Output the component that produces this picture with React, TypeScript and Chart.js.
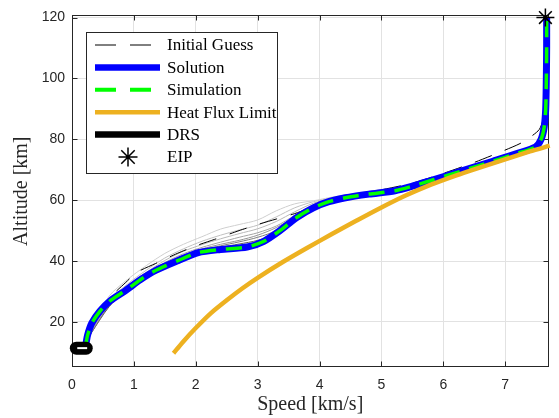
import React, { useEffect, useRef } from 'react';
import { Chart, registerables } from 'chart.js';

Chart.register(...registerables);

const xTickValues = [0, 1, 2, 3, 4, 5, 6, 7];
const yTickValues = [20, 40, 60, 80, 100, 120];

const solutionSpeed = [0.22, 0.25, 0.32, 0.45, 0.62, 0.87, 1.1, 1.35, 1.72, 2.04, 2.4, 2.83, 3.1, 3.36, 3.63, 3.9, 4.15, 4.42, 4.8, 5.22, 5.5, 5.85, 6.3, 6.8, 7.2, 7.49, 7.58, 7.63, 7.655, 7.665, 7.67, 7.67];
const solutionAlt = [12.0, 15.5, 19.6, 23.5, 27.0, 30.4, 33.8, 36.9, 40.2, 42.8, 43.8, 44.6, 46.5, 50.0, 54.3, 57.5, 59.5, 60.8, 62.0, 63.1, 64.6, 66.8, 69.6, 72.8, 75.4, 77.5, 80.0, 84.0, 90.0, 100, 110, 120];

const simulationSpeed = solutionSpeed;
const simulationAlt = solutionAlt;

const guessSpeed = [0.22, 0.3, 0.45, 0.65, 0.87, 1.05, 1.35, 1.7, 2.0, 2.3, 2.7, 3.0, 3.3, 3.6, 3.9, 4.2, 4.6, 5.0, 5.5, 6.0, 6.5, 6.92, 7.24, 7.41, 7.55, 7.62, 7.65, 7.665, 7.67];
const guessAlt = [12, 17.0, 22.5, 28.7, 33.0, 36.3, 39.2, 42.5, 45.0, 47.1, 50.0, 52.0, 53.8, 55.6, 57.8, 59.8, 61.8, 63.4, 65.6, 68.8, 72.4, 75.8, 78.6, 80.8, 83.2, 87, 93, 105, 120];

const iterSpeed = [0.3, 0.6, 0.9, 1.2, 1.5, 1.8, 2.1, 2.4, 2.7, 3.0, 3.3, 3.6, 3.9, 4.2, 4.6, 5.0];
const iter1Alt = [18.0, 28.5, 34.0, 38.5, 42.5, 45.5, 48.0, 50.5, 52.0, 53.5, 56.5, 58.8, 59.8, 61.0, 62.3, 63.5];
const iter2Alt = [17.0, 27.0, 32.5, 37.0, 41.0, 44.0, 46.5, 48.5, 50.2, 51.8, 54.5, 57.5, 59.5, 60.8, 62.2, 63.4];
const iter3Alt = [16.5, 26.0, 31.5, 35.8, 39.5, 42.4, 44.5, 46.2, 47.8, 49.3, 51.5, 55.0, 58.5, 60.5, 62.0, 63.3];
const iter4Alt = [16.0, 25.5, 31.0, 35.0, 38.5, 41.3, 43.5, 45.0, 46.3, 47.8, 50.0, 54.0, 57.8, 60.3, 61.8, 63.2];
const iter5Alt = [16.0, 25.0, 30.8, 34.5, 38.0, 40.8, 43.0, 44.5, 45.6, 46.8, 49.0, 53.5, 57.6, 60.2, 61.7, 63.2];
const iter6Alt = [16.2, 25.2, 31.2, 35.2, 39.0, 42.0, 44.0, 45.5, 46.8, 48.5, 51.0, 54.5, 58.0, 60.4, 61.9, 63.3];
const iter7Alt = [16.8, 26.5, 32.0, 36.3, 40.2, 43.2, 45.4, 47.3, 49.0, 50.6, 53.0, 56.2, 59.0, 60.7, 62.1, 63.4];
const iterColors = ['#cfcfcf', '#c0c0c0', '#a4a4a4', '#7c7c7c', '#5e5e5e', '#949494', '#b8b8b8'];

const heatSpeed = [1.64, 1.8, 2.0, 2.25, 2.51, 2.75, 3.0, 3.4, 3.79, 4.2, 4.6, 5.0, 5.4, 5.8, 6.2, 6.6, 7.0, 7.4, 7.72];
const heatAlt = [9.7, 13.6, 18.0, 23.0, 27.3, 31.0, 34.5, 39.6, 44.2, 48.9, 53.3, 57.6, 61.6, 65.1, 68.1, 70.8, 73.4, 76.0, 77.9];

const drsSpeed = [0.07, 0.23];
const drsAlt = [11.4, 11.4];
const drsInnerSpeed = [0.085, 0.245];
const drsInnerAlt = [11.4, 11.4];

const eipSpeed = [7.65];
const eipAlt = [120];

const legendLabels = ['Initial Guess', 'Solution', 'Simulation', 'Heat Flux Limit', 'DRS', 'EIP'];
const xTitle = 'Speed [km/s]';
const yTitle = 'Altitude [km]';

const BLUE = '#0000ff';
const GREEN = '#00ff00';
const ORANGE = '#edb120';
const AXIS = '#262626';

const pts = (xs: number[], ys: number[]) => xs.map((x, i) => ({ x, y: ys[i] }));

function drawAsterisk(ctx: CanvasRenderingContext2D, cx: number, cy: number, r: number) {
  ctx.beginPath();
  for (let k = 0; k < 4; k++) {
    const a = (k * Math.PI) / 4;
    ctx.moveTo(cx - Math.cos(a) * r, cy - Math.sin(a) * r);
    ctx.lineTo(cx + Math.cos(a) * r, cy + Math.sin(a) * r);
  }
  ctx.stroke();
}

const framePlugin = {
  id: 'frame',
  beforeDatasetsDraw(chart: any) {
    const { ctx, chartArea: a, scales } = chart;
    const x = scales.x;
    const y = scales.y;
    ctx.save();
    ctx.strokeStyle = AXIS;
    ctx.lineWidth = 1;
    const L = Math.round(a.left) + 0.5;
    const R = Math.round(a.right) - 0.5;
    const T = Math.round(a.top) + 0.5;
    const B = Math.round(a.bottom) - 0.5;
    ctx.strokeRect(L, T, R - L, B - T);
    ctx.beginPath();
    const tl = 5;
    xTickValues.forEach((v) => {
      const px = Math.round(x.getPixelForValue(v)) + 0.5;
      ctx.moveTo(px, B);
      ctx.lineTo(px, B - tl);
      ctx.moveTo(px, T);
      ctx.lineTo(px, T + tl);
    });
    yTickValues.forEach((v) => {
      const py = Math.round(y.getPixelForValue(v)) + 0.5;
      ctx.moveTo(L, py);
      ctx.lineTo(L + tl, py);
      ctx.moveTo(R, py);
      ctx.lineTo(R - tl, py);
    });
    ctx.stroke();
    ctx.restore();
  },
  afterDraw(chart: any) {
    const { ctx, chartArea: a } = chart;
    ctx.save();
    ctx.fillStyle = AXIS;
    ctx.font = '20px "Liberation Serif"';
    ctx.textAlign = 'center';
    ctx.textBaseline = 'middle';
    ctx.fillText(xTitle, (a.left + a.right) / 2, 405);
    ctx.save();
    ctx.translate(22, (a.top + a.bottom) / 2);
    ctx.rotate(-Math.PI / 2);
    ctx.fillText(yTitle, 0, 0);
    ctx.restore();

    const box = { left: 86, top: 32, right: 277, bottom: 173 };
    ctx.fillStyle = '#ffffff';
    ctx.fillRect(box.left, box.top, box.right - box.left, box.bottom - box.top);
    ctx.strokeStyle = AXIS;
    ctx.lineWidth = 1;
    ctx.strokeRect(box.left + 0.5, box.top + 0.5, box.right - box.left, box.bottom - box.top);
    const rowY = (i: number) => 45 + i * 22.4;
    const sx0 = 95;
    const sx1 = 160;
    const styles = [
      { c: '#000000', w: 1, d: [21, 14] },
      { c: BLUE, w: 6.5, d: [] },
      { c: GREEN, w: 4, d: [21, 14] },
      { c: ORANGE, w: 4.5, d: [] },
      { c: '#000000', w: 6.5, d: [] },
    ];
    styles.forEach((s, i) => {
      ctx.beginPath();
      ctx.strokeStyle = s.c;
      ctx.lineWidth = s.w;
      ctx.setLineDash(s.d);
      ctx.lineCap = 'butt';
      ctx.moveTo(sx0, rowY(i));
      ctx.lineTo(sx1, rowY(i));
      ctx.stroke();
    });
    ctx.setLineDash([]);
    ctx.strokeStyle = '#000000';
    ctx.lineWidth = 1.5;
    drawAsterisk(ctx, 128, rowY(5), 9.5);
    ctx.fillStyle = '#000000';
    ctx.font = '17px "Liberation Serif"';
    ctx.textAlign = 'left';
    ctx.textBaseline = 'middle';
    legendLabels.forEach((t, i) => ctx.fillText(t, 167, rowY(i) + 1));
    ctx.restore();
  },
};

export default function App() {
  const ref = useRef<HTMLCanvasElement>(null);
  useEffect(() => {
    if (!ref.current) return;
    const line = (data: any, color: string, width: number, extra: any = {}) => ({
      data,
      showLine: true,
      borderColor: color,
      backgroundColor: color,
      borderWidth: width,
      pointRadius: 0,
      fill: false,
      tension: 0.25,
      clip: false,
      ...extra,
    });
    const iterAlts = [iter1Alt, iter2Alt, iter3Alt, iter4Alt, iter5Alt, iter6Alt, iter7Alt];
    const datasets: any[] = [
      {
        data: pts(eipSpeed, eipAlt),
        showLine: false,
        pointStyle: 'star',
        pointRadius: 9,
        borderColor: '#000000',
        backgroundColor: '#000000',
        pointBorderWidth: 1.5,
        clip: false,
      },
      line(pts(drsInnerSpeed, drsInnerAlt), '#ffffff', 2, { tension: 0 }),
      line(pts(drsSpeed, drsAlt), '#000000', 13, { tension: 0, borderCapStyle: 'round' }),
      line(pts(heatSpeed, heatAlt), ORANGE, 4.5),
      line(pts(simulationSpeed, simulationAlt), GREEN, 3.5, { borderDash: [16, 10] }),
      line(pts(solutionSpeed, solutionAlt), BLUE, 7),
      line(pts(guessSpeed, guessAlt), '#000000', 1, { borderDash: [18, 14] }),
      ...iterAlts.map((alts, i) => line(pts(iterSpeed, alts), iterColors[i], 1, { tension: 0.3 })),
    ];
    const chart = new Chart(ref.current, {
      type: 'scatter',
      data: { datasets },
      options: {
        animation: false,
        responsive: false,
        devicePixelRatio: 1,
        layout: { padding: { top: 14, right: 3, left: 0, bottom: 0 } },
        plugins: { legend: { display: false }, tooltip: { enabled: false } },
        scales: {
          x: {
            type: 'linear',
            min: 0,
            max: 7.7,
            afterFit: (s: any) => { s.height = 51; },
            afterBuildTicks: (s: any) => { s.ticks = xTickValues.map((v) => ({ value: v })); },
            grid: { color: '#e2e2e2', drawTicks: false },
            border: { display: false },
            ticks: { font: { family: 'Liberation Sans', size: 14 }, color: AXIS, padding: 10, maxRotation: 0, autoSkip: false },
          },
          y: {
            type: 'linear',
            min: 5.2,
            max: 120.7,
            afterFit: (s: any) => { s.width = 72; },
            afterBuildTicks: (s: any) => { s.ticks = yTickValues.map((v) => ({ value: v })); },
            grid: { color: '#e2e2e2', drawTicks: false },
            border: { display: false },
            ticks: { font: { family: 'Liberation Sans', size: 14 }, color: AXIS, padding: 7, autoSkip: false },
          },
        },
      },
      plugins: [framePlugin],
    } as any);
    return () => chart.destroy();
  }, []);
  return (
    <div style={{ position: 'absolute', left: 0, top: 0, width: 559, height: 418, background: '#ffffff' }}>
      <canvas ref={ref} width={559} height={418} />
    </div>
  );
}
